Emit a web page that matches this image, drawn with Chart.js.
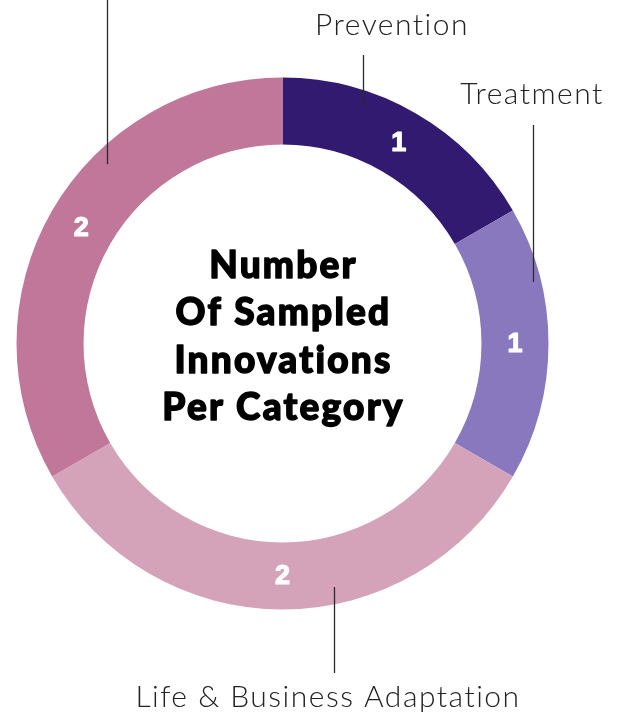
<!DOCTYPE html>
<html>
<head>
<meta charset="utf-8">
<script src="https://cdn.jsdelivr.net/npm/chart.js@4"></script>
<style>
  html, body { margin: 0; padding: 0; background: #fff; }
  #wrap { width: 623px; height: 715px; }
</style>
</head>
<body>
<div id="wrap"><canvas id="donut" width="623" height="715"></canvas></div>
<script>
// categories and counts, clockwise from 12 o'clock
const categories = ['Prevention', 'Treatment', 'Life & Business Adaptation', 'Preparedness'];
const counts = [1, 1, 2, 2];
const sliceColors = ['#311a6f', '#8a78bf', '#d4a3ba', '#c07799'];
const centerTitle = ['Number', 'Of Sampled', 'Innovations', 'Per Category'];

// leader line / caption placement per slice (frac = where along the arc the line starts)
const callouts = [
    { frac: 0.31, inset: 15, lineTo: 55, textX: 392, textY: 25, show: true },
    { frac: 0.27, inset: 8, lineTo: 125, textX: 532, textY: 94, show: true },
    { frac: 0.40, inset: 17, lineTo: 673, textX: 328, textY: 697, show: true },
    { frac: 0.63, inset: 15, lineTo: -5, textX: 108, textY: -30, show: false }
];

const donutLabels = {
    id: 'donutLabels',
    afterDatasetsDraw(chart) {
        const ctx = chart.ctx;
        const arcs = chart.getDatasetMeta(0).data;

        // values inside the ring
        ctx.save();
        ctx.fillStyle = '#fff';
        ctx.strokeStyle = '#fff';
        ctx.lineWidth = 1.2;
        ctx.lineJoin = 'round';
        ctx.font = 'bold 27px "Liberation Sans", Arial, sans-serif';
        ctx.textAlign = 'center';
        ctx.textBaseline = 'middle';
        arcs.forEach((arc, i) => {
            const p = arc.getCenterPoint();
            ctx.fillText(String(counts[i]), p.x, p.y + 1);
            ctx.strokeText(String(counts[i]), p.x, p.y + 1);
        });
        ctx.restore();

        // leader lines and captions
        ctx.save();
        ctx.strokeStyle = '#2a2a2a';
        ctx.lineWidth = 1.3;
        ctx.fillStyle = '#222';
        ctx.font = '300 30px Lato, "Open Sans", sans-serif';
        ctx.letterSpacing = '1.5px';
        ctx.textAlign = 'center';
        ctx.textBaseline = 'middle';
        arcs.forEach((arc, i) => {
            const c = callouts[i];
            const a = arc.startAngle + (arc.endAngle - arc.startAngle) * c.frac;
            const r = arc.outerRadius - c.inset;
            const x = Math.round(arc.x + r * Math.cos(a)) + 0.5;
            const y = arc.y + r * Math.sin(a);
            ctx.beginPath();
            ctx.moveTo(x, y);
            ctx.lineTo(x, c.lineTo);
            ctx.stroke();
            if (c.show) ctx.fillText(categories[i], c.textX, c.textY);
        });
        ctx.restore();

        // title in the hole
        const a0 = arcs[0];
        ctx.save();
        ctx.fillStyle = '#000';
        ctx.strokeStyle = '#000';
        ctx.lineWidth = 1.4;
        ctx.lineJoin = 'round';
        ctx.font = '900 37px Lato, "Open Sans", sans-serif';
        ctx.letterSpacing = '2.2px';
        ctx.textAlign = 'center';
        ctx.textBaseline = 'alphabetic';
        const lh = 47.3;
        const first = a0.y - 65.5;
        centerTitle.forEach((line, i) => {
            ctx.fillText(line, a0.x + 1, first + i * lh);
            ctx.strokeText(line, a0.x + 1, first + i * lh);
        });
        ctx.restore();
    }
};

new Chart(document.getElementById('donut'), {
    type: 'doughnut',
    data: {
        labels: categories,
        datasets: [{
            data: counts,
            backgroundColor: sliceColors,
            borderWidth: 0
        }]
    },
    options: {
        responsive: false,
        animation: false,
        cutout: '74.8%',
        layout: { padding: { left: 16.5, right: 74.5, top: 77.5, bottom: 105.5 } },
        plugins: { legend: { display: false }, tooltip: { enabled: false } }
    },
    plugins: [donutLabels]
});
</script>
</body>
</html>
